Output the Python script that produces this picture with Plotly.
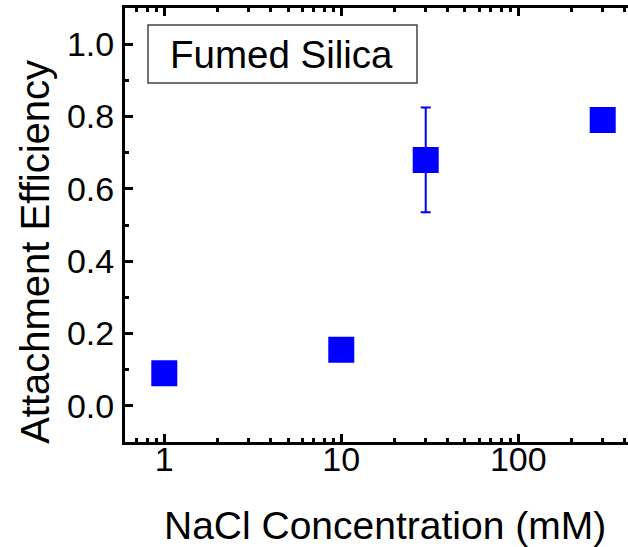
import plotly.graph_objects as go

nacl_mM = [1, 10, 30, 300]
attachment = [0.09, 0.155, 0.68, 0.79]
err = [0, 0, 0.145, 0]
y_ticks = [0.0, 0.2, 0.4, 0.6, 0.8, 1.0]
y_ticklabels = ["0.0", "0.2", "0.4", "0.6", "0.8", "1.0"]
x_ticks = [1, 10, 100]
x_ticklabels = ["1", "10", "100"]
x_title = "NaCl Concentration (mM)"
y_title = "Attachment Efficiency"
label = "Fumed Silica"

FONT = "Liberation Sans, Arial, sans-serif"

fig = go.Figure()
fig.add_trace(go.Scatter(
    x=nacl_mM, y=attachment, mode="markers",
    marker=dict(symbol="square", size=24, color="#0000ff",
                line=dict(color="#0000ff", width=2)),
    error_y=dict(type="data", array=err, visible=True, color="#0000ff",
                 thickness=2, width=5),
    showlegend=False,
))

fig.add_shape(type="rect", xref="paper", yref="paper",
              x0=0.0457, x1=0.5805, y0=0.827, y1=0.961,
              line=dict(color="#444444", width=1.5), fillcolor="white", layer="below")
fig.add_annotation(text=label, xref="paper", yref="paper",
                   x=0.312, y=0.894, showarrow=False,
                   font=dict(family=FONT, size=38.5, color="black"),
                   xanchor="center", yanchor="middle")

# axis titles as annotations for exact placement
fig.add_annotation(text=x_title, xref="paper", yref="paper",
                   x=0.517, y=-0.192, showarrow=False,
                   font=dict(family=FONT, size=39, color="black"),
                   xanchor="center", yanchor="middle")
fig.add_annotation(text=y_title, xref="paper", yref="paper",
                   x=-0.179, y=0.438, showarrow=False, textangle=-90,
                   font=dict(family=FONT, size=40, color="black"),
                   xanchor="center", yanchor="middle")

axis_common = dict(showline=True, linecolor="black", linewidth=3,
                   ticks="inside", tickcolor="black", tickwidth=2.5,
                   showgrid=False, zeroline=False, automargin=False,
                   tickfont=dict(family=FONT, size=34, color="black"))

fig.update_xaxes(type="log", range=[-0.222, 2.620],
                 tickvals=x_ticks, ticktext=x_ticklabels, ticklen=8,
                 mirror="allticks", ticklabelstandoff=-15,
                 minor=dict(ticks="inside", ticklen=4, tickwidth=2.5,
                            tickcolor="black", dtick="D1", showgrid=False),
                 **axis_common)
fig.update_yaxes(range=[-0.1, 1.1],
                 tickvals=y_ticks, ticktext=y_ticklabels, ticklen=8,
                 mirror=False, ticklabelstandoff=1,
                 minor=dict(ticks="inside", ticklen=4, tickwidth=2.5,
                            tickcolor="black", dtick=0.1, showgrid=False),
                 **axis_common)

fig.update_layout(width=628, height=547,
                  margin=dict(l=125, r=0, t=8, b=105),
                  paper_bgcolor="white", plot_bgcolor="white")

fig.write_html("out.html", config={"displayModeBar": False},
               post_script="document.body.style.margin='0';document.body.style.overflow='hidden';")
